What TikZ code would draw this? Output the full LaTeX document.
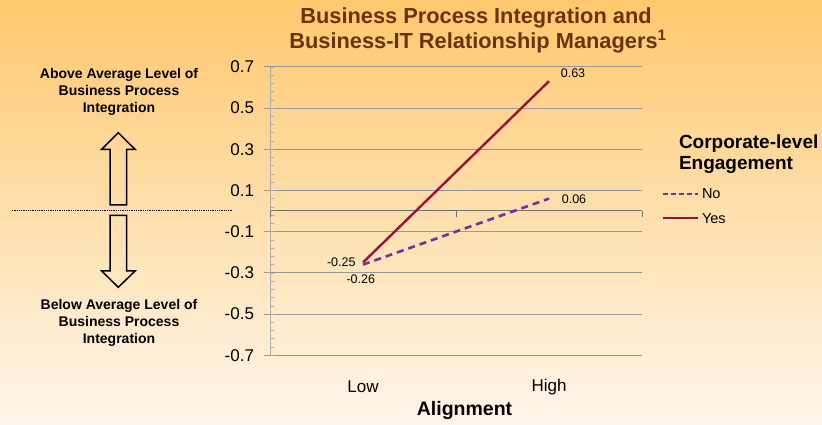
\documentclass[tikz,border=0pt]{standalone}
\usepackage{fontspec}
\setmainfont{Liberation Sans}
\definecolor{bgtop}{RGB}{255,200,110}
\definecolor{bgmid}{RGB}{254,226,180}
\definecolor{bgbot}{RGB}{255,246,235}
\definecolor{titlebrown}{RGB}{106,52,10}
\definecolor{yesred}{RGB}{160,16,60}
\definecolor{nopurple}{RGB}{112,48,160}
\definecolor{gridgray}{RGB}{150,150,150}
\begin{document}
\begin{tikzpicture}[x=1pt,y=1pt,
  every node/.style={inner sep=0pt,outer sep=0pt},
  titletext/.style={font=\fontsize{21.8}{25}\selectfont\bfseries,text=titlebrown},
  sidetext/.style={font=\fontsize{14}{17}\selectfont\bfseries,align=center},
  ticklabel/.style={font=\fontsize{17}{20}\selectfont,anchor=east},
  catlabel/.style={font=\fontsize{17}{20}\selectfont},
  datalabel/.style={font=\fontsize{12.5}{15}\selectfont},
  legtitle/.style={font=\fontsize{19}{22}\selectfont\bfseries,anchor=west},
  legtext/.style={font=\fontsize{14.5}{17}\selectfont,anchor=west},
  gridline/.style={draw=gridgray,line width=0.9pt},
  yesline/.style={draw=yesred,line width=2.4pt},
  noline/.style={draw=nopurple,line width=2.6pt,dash pattern=on 7pt off 5pt},
  bigarrow/.style={draw=black,line width=1.5pt,line join=miter}
]
\useasboundingbox (0,0) rectangle (822,425);
\shade[top color=bgtop,middle color=bgmid,bottom color=bgbot] (0,0) rectangle (822,425);

% title
\node[titletext] (title1) at (476,406.7) {Business Process Integration and};
\node[titletext] (title2) at (478,383.3) {Business-IT Relationship Managers\textsuperscript{1}};

% grid lines and tick labels
\foreach \v [count=\i] in {-0.7,-0.5,-0.3,-0.1,0.1,0.3,0.5,0.7}{
  \pgfmathsetmacro\Y{214+206*\v}
  \coordinate (gl\i) at (264,\Y);
  \coordinate (gr\i) at (642,\Y);
  \draw[gridline] (gl\i) -- (gr\i);
  \node[ticklabel] (tick\i) at (254,\Y) {\v};
}
% vertical axis with minor ticks
\coordinate (vaxb) at (270.5,69.8);
\coordinate (vaxt) at (270.5,358.2);
\draw[draw=gridgray!80,line width=0.6pt] (vaxb) -- (vaxt);
\foreach \k in {0,...,35}{
  \draw[draw=gridgray!80,line width=0.5pt] (270.5,69.8+8.24*\k) -- ++(3,0);
}
% category axis at 0
\coordinate (cax0) at (270.5,214);
\coordinate (cax1) at (456,214);
\coordinate (cax2) at (642,214);
\draw[draw=gray!90!black,line width=1pt] (cax0) -- (cax2);
\foreach \c in {cax0,cax1,cax2}{\draw[draw=gray!90!black,line width=0.8pt] (\c) -- ++(0,-6);}

% category labels
\node[catlabel] (low) at (363,38.3) {Low};
\node[catlabel] (high) at (549,38.3) {High};
\node[font=\fontsize{19.5}{22}\selectfont\bfseries] (xtitle) at (464.5,14) {Alignment};

% data
\coordinate (noL) at (363,160.4);
\coordinate (noH) at (549,226.4);
\coordinate (yesL) at (363,162.5);
\coordinate (yesH) at (549,343.8);
\draw[yesline] (yesL) -- (yesH);
\draw[noline] (noL) -- (noH);
\node[datalabel] (d63) at (573,351.7) {0.63};
\node[datalabel] (d06) at (574,225.7) {0.06};
\node[datalabel] (d25) at (341.3,162.3) {-0.25};
\node[datalabel] (d26) at (360.8,145.7) {-0.26};

% legend
\node[legtitle] (legt1) at (679,281.7) {Corporate-level};
\node[legtitle] (legt2) at (679,260) {Engagement};
\coordinate (legNoA) at (663,231);
\coordinate (legNoB) at (698,231);
\coordinate (legYesA) at (663,206.7);
\coordinate (legYesB) at (698,206.7);
\draw[draw=nopurple,line width=2pt,dash pattern=on 5pt off 3pt] (legNoA) -- (legNoB);
\draw[draw=yesred,line width=2pt] (legYesA) -- (legYesB);
\node[legtext] (legNo) at (702,231) {No};
\node[legtext] (legYes) at (702,206.7) {Yes};

% left annotations
\node[sidetext] (above) at (119,333) {Above Average Level of\\Business Process\\Integration};
\node[sidetext] (below) at (119,101.7) {Below Average Level of\\Business Process\\Integration};
\coordinate (dotA) at (11.7,214.7);
\coordinate (dotB) at (233,214.7);
\draw[densely dotted,line width=0.8pt] (dotA) -- (dotB);
\draw[bigarrow] (118.3,292.3) -- (135,275.7) -- (126.7,275.7) -- (126.7,220) -- (110,220) -- (110,275.7) -- (101.7,275.7) -- cycle;
\draw[bigarrow] (118.3,137.7) -- (135,154) -- (126.7,154) -- (126.7,209.7) -- (110,209.7) -- (110,154) -- (101.7,154) -- cycle;
\end{tikzpicture}
\end{document}
